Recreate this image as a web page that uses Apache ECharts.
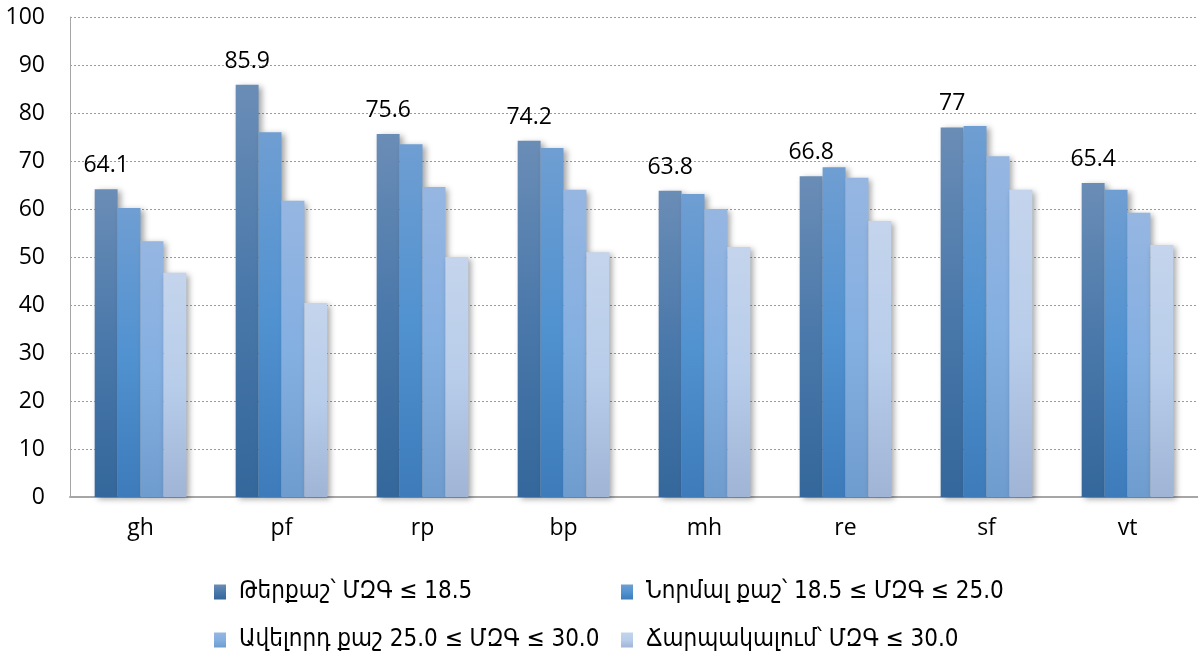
<!DOCTYPE html>
<html>
<head>
<meta charset="utf-8">
<script src="https://cdn.jsdelivr.net/npm/echarts@6/dist/echarts.min.js"></script>
<style>
  html, body { margin: 0; padding: 0; background: #ffffff; }
  #chart { width: 1198px; height: 656px; }
</style>
</head>
<body>
<div id="chart"></div>
<script>
// Categories (x axis)
const categories = ['gh', 'pf', 'rp', 'bp', 'mh', 're', 'sf', 'vt'];

// Series names (BMI groups)
const seriesNames = [
  'Թերքաշ՝ ՄԶԳ ≤ 18.5',
  'Նորմալ քաշ՝ 18.5 ≤ ՄԶԳ ≤ 25.0',
  'Ավելորդ քաշ 25.0 ≤ ՄԶԳ ≤ 30.0',
  'Ճարպակալում՝ ՄԶԳ ≤ 30.0'
];

// Values per series
const underweight = [64.1, 85.9, 75.6, 74.2, 63.8, 66.8, 77.0, 65.4];
const normal      = [60.2, 76.0, 73.5, 72.7, 63.1, 68.7, 77.3, 64.0];
const overweight  = [53.3, 61.7, 64.6, 64.0, 60.0, 66.5, 71.0, 59.2];
const obese       = [46.7, 40.4, 50.0, 51.0, 52.1, 57.5, 64.0, 52.5];

// Y axis ticks
const yMin = 0, yMax = 100, yStep = 10;

const seriesValues = [underweight, normal, overweight, obese];

// Vertical gradients (top -> bottom) for each series
const gradients = [
  ['#6a8db6', '#4a78aa', '#34679b'],
  ['#6f9ed2', '#5192d0', '#3d7bbb'],
  ['#96b6e1', '#84afe1', '#6f9cce'],
  ['#c4d4ec', '#b8cdea', '#a0b5d6']
];

function grad(c) {
  return new echarts.graphic.LinearGradient(0, 0, 0, 1, [
    { offset: 0, color: c[0] },
    { offset: 0.5, color: c[1] },
    { offset: 1, color: c[2] }
  ]);
}

const numFont = '"Open Sans", Lato, sans-serif';
const legendFont = '"DejaVu Sans Condensed", "DejaVu Sans", sans-serif';

const series = seriesValues.map((vals, i) => ({
  name: seriesNames[i],
  type: 'bar',
  data: vals,
  barGap: '0%',
  barCategoryGap: '35%',
  itemStyle: {
    color: grad(gradients[i]),
    shadowColor: 'rgba(0,0,0,0.35)',
    shadowBlur: 6,
    shadowOffsetX: 3,
    shadowOffsetY: 2
  },
  label: i === 0 ? {
    show: true,
    position: 'top',
    distance: 12,
    color: '#000',
    fontFamily: numFont,
    fontSize: 23,
    formatter: p => String(p.value)
  } : { show: false }
}));

// Legend: two columns by two rows
const legendPos = [
  { left: 209, top: 575 },
  { left: 616, top: 575 },
  { left: 209, top: 623 },
  { left: 616, top: 623 }
];

const legends = seriesNames.map((n, i) => ({
  data: [{ name: n, icon: 'rect' }],
  left: legendPos[i].left,
  top: legendPos[i].top,
  itemWidth: 12,
  itemHeight: 15,
  itemGap: 0,
  selectedMode: false,
  textStyle: { fontFamily: legendFont, fontSize: 24, color: '#000', padding: [0, 0, 0, 8] }
}));

const chart = echarts.init(document.getElementById('chart'), null, { renderer: 'canvas' });
chart.setOption({
  animation: false,
  backgroundColor: '#ffffff',
  legend: legends,
  grid: { left: 70, right: 0, top: 17, bottom: 159, containLabel: false },
  xAxis: {
    type: 'category',
    data: categories,
    axisLine: { show: true, lineStyle: { color: '#a6a6a6', width: 2 } },
    axisTick: { show: false },
    axisLabel: { color: '#000', fontFamily: numFont, fontSize: 23, margin: 20 }
  },
  yAxis: {
    type: 'value',
    min: yMin,
    max: yMax,
    interval: yStep,
    axisLine: { show: true, lineStyle: { color: '#a6a6a6', width: 1 } },
    axisTick: { show: false },
    axisLabel: { color: '#000', fontFamily: numFont, fontSize: 23, margin: 25 },
    splitLine: { show: true, lineStyle: { color: '#9a9a9a', type: [2, 2], width: 1 } }
  },
  series: series
});
</script>
</body>
</html>
